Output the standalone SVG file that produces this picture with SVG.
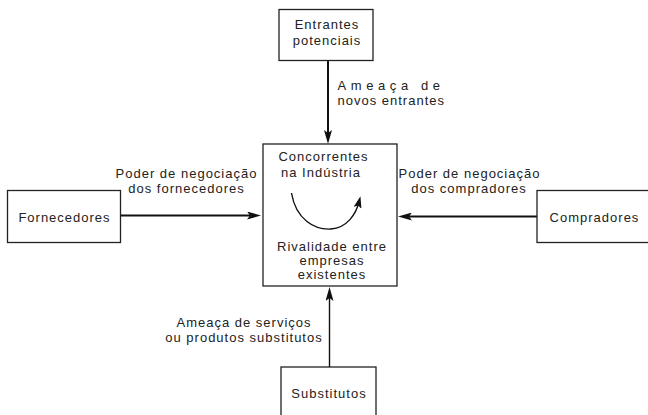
<svg xmlns="http://www.w3.org/2000/svg" width="648" height="415" viewBox="0 0 648 415">
<defs>
<style>
.box{fill:#fff;stroke:#222;stroke-width:1.3}
.t{font-family:"Liberation Sans",Arial,sans-serif;font-size:13px;fill:#222;letter-spacing:1px}
.m{text-anchor:middle}
.c{fill:none;stroke:#111;stroke-width:2}
.thin{stroke-width:1.4}
</style>
<marker id="ah" viewBox="0 0 14 8" refX="8" refY="4" markerWidth="14" markerHeight="8" markerUnits="userSpaceOnUse" orient="auto">
<path d="M0,0 L14,4 L0,8 L3,4 z" fill="#111"/>
</marker>
<marker id="ahs" viewBox="0 0 12 8" refX="6" refY="4" markerWidth="12" markerHeight="8" markerUnits="userSpaceOnUse" orient="auto">
<path d="M0,0 L12,4 L0,8 L2.5,4 z" fill="#111"/>
</marker>
</defs>
<rect width="648" height="415" fill="#fff"/>
<g id="connectors">
<line class="c" x1="328" y1="61" x2="328" y2="138" marker-end="url(#ah)"/>
<line class="c" x1="121" y1="215.5" x2="255" y2="215.5" marker-end="url(#ah)"/>
<line class="c" x1="537" y1="216.5" x2="404" y2="216.5" marker-end="url(#ah)"/>
<line class="c thin" x1="329.5" y1="367" x2="329.5" y2="293" marker-end="url(#ah)"/>
</g>
<g id="entrantes">
<rect class="box" x="279" y="9.5" width="94" height="51"/>
<text class="t m" x="327" y="29">Entrantes</text>
<text class="t m" x="327" y="45">potenciais</text>
</g>
<g id="label-entrantes">
<text class="t" x="337.5" y="90" style="letter-spacing:4.6px">Ameaça de</text>
<text class="t" x="337.5" y="105">novos entrantes</text>
</g>
<g id="concorrentes">
<rect class="box" x="263" y="144" width="134" height="142"/>
<text class="t m" x="323.5" y="161">Concorrentes</text>
<text class="t m" x="321" y="177">na Indústria</text>
<path class="c thin" d="M291.5,193 C296,220 315,230 331,229 C347,228 356,214 359,202" marker-end="url(#ahs)"/>
<text class="t m" x="332" y="251">Rivalidade entre</text>
<text class="t m" x="332" y="265">empresas</text>
<text class="t m" x="332" y="279">existentes</text>
</g>
<g id="fornecedores">
<rect class="box" x="7.5" y="190.5" width="113" height="52"/>
<text class="t m" x="64.5" y="222">Fornecedores</text>
<text class="t m" x="186.5" y="178">Poder de negociação</text>
<text class="t m" x="186.5" y="193">dos fornecedores</text>
</g>
<g id="compradores">
<rect class="box" x="537" y="190.5" width="120" height="52"/>
<text class="t m" x="594.5" y="222">Compradores</text>
<text class="t m" x="469.5" y="178">Poder de negociação</text>
<text class="t m" x="469" y="193">dos compradores</text>
</g>
<g id="substitutos">
<rect class="box" x="281" y="367" width="95" height="60"/>
<text class="t m" x="329" y="398">Substitutos</text>
<text class="t m" x="244" y="327">Ameaça de serviços</text>
<text class="t m" x="244" y="342">ou produtos substitutos</text>
</g>
</svg>
